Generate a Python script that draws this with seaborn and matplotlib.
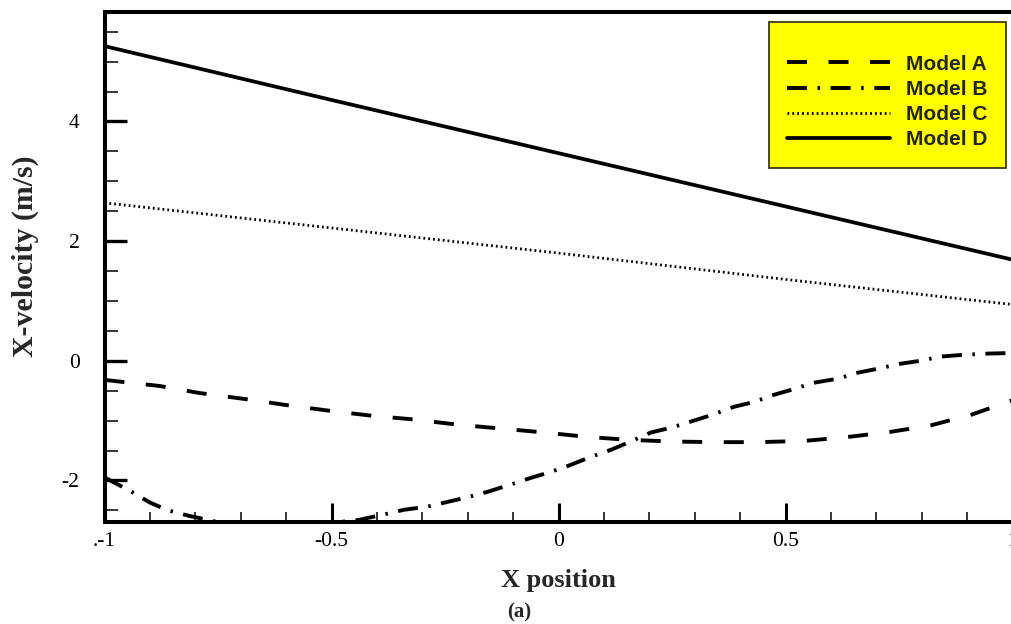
import numpy as np
import pandas as pd
import matplotlib
matplotlib.use("Agg")
import matplotlib.pyplot as plt
from matplotlib.ticker import MultipleLocator, FixedLocator, FixedFormatter
import seaborn as sns

# ---------------- data ----------------
x_a = [-1.0, -0.88, -0.79, -0.69, -0.60, -0.51, -0.41, -0.32, -0.22, -0.13, -0.03,
       0.06, 0.15, 0.25, 0.35, 0.44, 0.54, 0.63, 0.73, 0.82, 0.91, 1.0]
model_a = [-0.32, -0.42, -0.54, -0.64, -0.74, -0.83, -0.92, -0.98, -1.07, -1.13, -1.20,
           -1.27, -1.32, -1.35, -1.36, -1.36, -1.34, -1.28, -1.19, -1.08, -0.90, -0.66]

x_b = [-1.0, -0.94, -0.90, -0.86, -0.815, -0.76, -0.70, -0.63, -0.55, -0.50, -0.44,
       -0.385, -0.34, -0.29, -0.245, -0.20, -0.156, -0.106, -0.062, -0.018, 0.02,
       0.07, 0.115, 0.159, 0.203, 0.247, 0.29, 0.34, 0.386, 0.43, 0.474, 0.52,
       0.56, 0.615, 0.659, 0.705, 0.753, 0.797, 0.841, 0.892, 0.945, 1.0]
model_b = [-1.95, -2.19, -2.37, -2.50, -2.59, -2.68, -2.77, -2.82, -2.78, -2.71, -2.66,
           -2.57, -2.49, -2.44, -2.36, -2.28, -2.19, -2.07, -1.96, -1.86, -1.76,
           -1.61, -1.49, -1.35, -1.20, -1.12, -1.02, -0.90, -0.77, -0.69, -0.57, -0.47,
           -0.37, -0.30, -0.20, -0.13, -0.05, 0.00, 0.07, 0.10, 0.12, 0.13]

x_c = [-1.0, -0.5, 0.0, 0.5, 1.0]
model_c = [2.64, 2.22, 1.80, 1.36, 0.94]

x_d = [-1.0, -0.5, 0.0, 0.5, 1.0]
model_d = [5.26, 4.36, 3.47, 2.58, 1.69]

labels = ["Model A", "Model B", "Model C", "Model D"]
xtick_vals = [-1.0, -0.5, 0.0, 0.5, 1.0]
xtick_labels = [".-1", "-0.5", "0", "0.5", "1"]
ytick_vals = [-2, 0, 2, 4]
ytick_labels = ["-2", "0", "2", "4"]

# ---------------- style ----------------
sns.set_theme(style="white")
plt.rcParams["font.family"] = ["Liberation Serif", "DejaVu Serif"]
plt.rcParams["axes.unicode_minus"] = False
plt.rcParams["lines.scale_dashes"] = False

W, H = 1011, 624
fig = plt.figure(figsize=(W / 100, H / 100), dpi=100)
fig.patch.set_facecolor("white")

left_px, right_px, top_px, bot_px = 104.5, 1012.5, 12.0, 522.3
ax = fig.add_axes([left_px / W, 1 - bot_px / H, (right_px - left_px) / W, (bot_px - top_px) / H])
ax.set_facecolor("white")

styles = [
    dict(lw=2.8, linestyle=(0, (14.4, 15.5))),
    dict(lw=2.8, linestyle=(0, (14.4, 7.6, 1.8, 7.6))),
    dict(lw=2.0, linestyle=(0, (1.3, 2.2))),
    dict(lw=2.7, linestyle="-"),
]
series = [(x_a, model_a), (x_b, model_b), (x_c, model_c), (x_d, model_d)]
for (xs, ys), lab, st in zip(series, labels, styles):
    sns.lineplot(x=xs, y=ys, ax=ax, color="black", label=lab, sort=False,
                 estimator=None, **st)

ax.set_xlim(-1.0, 1.0)
ax.set_ylim(-2.70, 5.83)

# spines
for side in ["left", "bottom", "top", "right"]:
    ax.spines[side].set_visible(True)
    ax.spines[side].set_color("black")
    ax.spines[side].set_linewidth(2.9)

# ticks
ax.xaxis.set_major_locator(FixedLocator(xtick_vals))
ax.xaxis.set_major_formatter(FixedFormatter(xtick_labels))
ax.xaxis.set_minor_locator(MultipleLocator(0.1))
ax.yaxis.set_major_locator(FixedLocator(ytick_vals))
ax.yaxis.set_major_formatter(FixedFormatter(ytick_labels))
ax.yaxis.set_minor_locator(MultipleLocator(0.5))
ax.tick_params(axis="both", which="both", direction="in", colors="black",
               top=False, right=False, bottom=True, left=True)
ax.tick_params(axis="x", which="major", length=14, width=2.2, pad=7, labelsize=15.5)
ax.tick_params(axis="x", which="minor", length=7.5, width=1.1)
ax.tick_params(axis="y", which="major", length=16, width=2.4, pad=18, labelsize=15.5)
ax.tick_params(axis="y", which="minor", length=9, width=1.1)

# axis labels
ax.set_xlabel("X position", fontsize=19, fontweight="bold")
ax.xaxis.label.set_va("center")
ax.xaxis.set_label_coords(0.5, (bot_px - 581) / (bot_px - top_px))
ax.set_ylabel("X-velocity (m/s)", fontsize=21.5, fontweight="bold")
ax.yaxis.label.set_va("center")
ax.yaxis.set_label_coords((25 - left_px) / (right_px - left_px), (bot_px - 256) / (bot_px - top_px))

fig.text(519 / W, 1 - 612 / H, "(a)", fontsize=15, fontweight="bold",
         ha="center", va="center")

# legend
handles = ax.get_lines()[:4]
leg = ax.legend(handles, labels, loc="upper right",
                bbox_to_anchor=(1006 / W, 1 - 22 / H), bbox_transform=fig.transFigure,
                borderaxespad=0, frameon=True, fancybox=False, framealpha=1,
                facecolor="#ffff00", edgecolor="#3d3a10",
                prop=dict(family=["Liberation Sans", "DejaVu Sans"], weight="bold", size=15),
                title=" ", title_fontsize=6.0,
                handlelength=4.93, handletextpad=0.75, labelspacing=0.29,
                borderpad=0.9)
leg.get_frame().set_linewidth(1.3)

fig.savefig("out.png", dpi=100, facecolor="white")
